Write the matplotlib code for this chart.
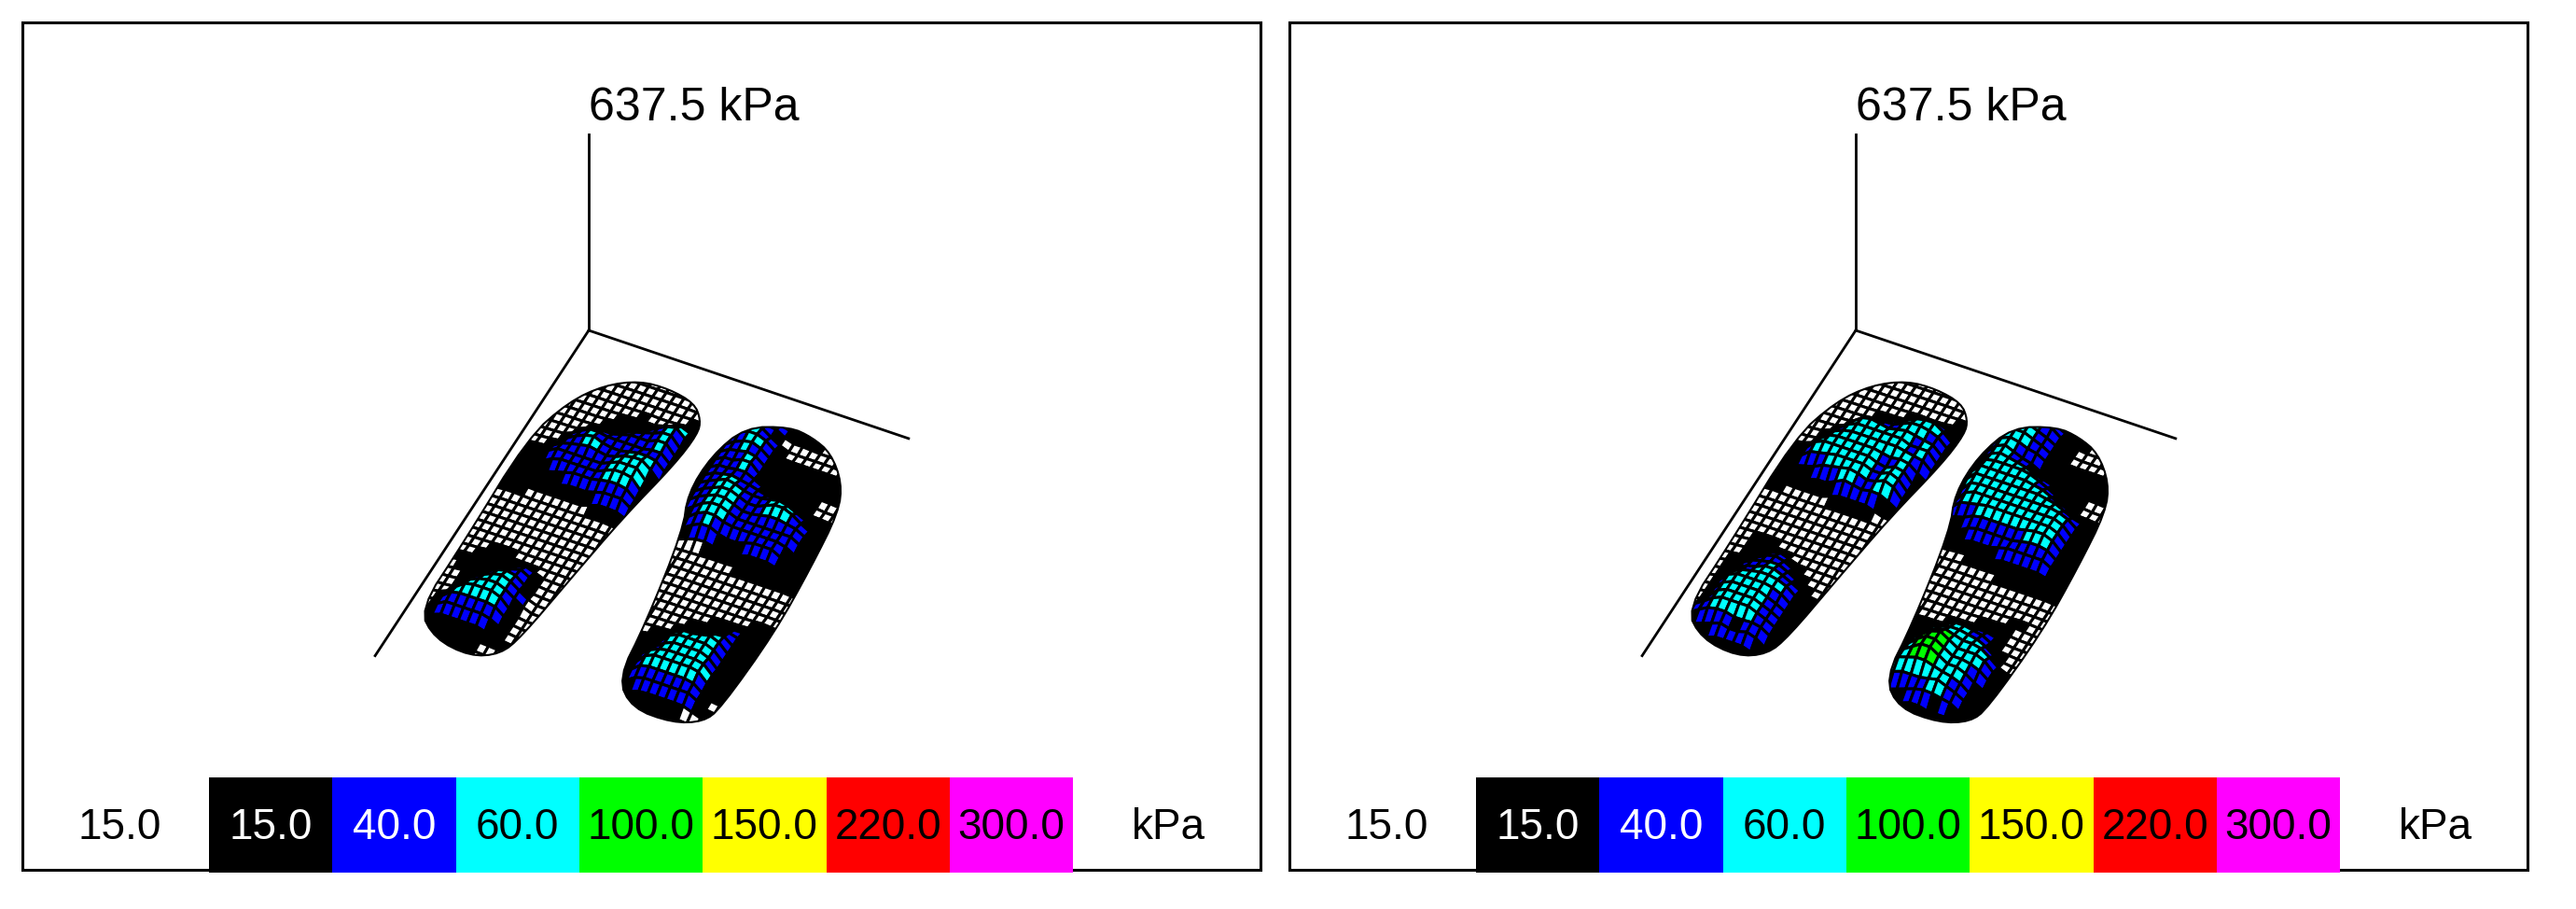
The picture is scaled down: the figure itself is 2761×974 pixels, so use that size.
import matplotlib
matplotlib.use('Agg')
import matplotlib.pyplot as plt
from matplotlib.collections import PolyCollection
from matplotlib.patches import Polygon

plt.rcParams['font.family'] = ['Liberation Sans', 'DejaVu Sans']

peak_label = '637.5 kPa'
scale_labels = ['15.0', '40.0', '60.0', '100.0', '150.0', '220.0', '300.0']
scale_colors = ['#000000', '#0000ff', '#00ffff', '#00ff00', '#ffff00', '#ff0000', '#ff00ff']
scale_text = ['white', 'white', 'black', 'black', 'black', 'black', 'black']

# pressure class of each sensor cell, w <15, k 15-40, b 40-60, c 60-100, g 100-150
level_colors = {'w': '#ffffff', 'k': '#000000', 'b': '#0000ff', 'c': '#00ffff', 'g': '#00ff00'}
level_kpa = {'w': 2, 'k': 8, 'b': 40, 'c': 64, 'g': 100}

left_foot_a = [
    '......wwwwwww..',
    '....wwwwwwwwww.',
    '...wwwwwwwwwwwk',
    '..wwwwwwwkwwwkk',
    '..wwwwwkkkkkbbc',
    '.wwwwwkkkkkbbcb',
    '.wwwwkkkkbbbbcb',
    '.wwwkbbbbbbbbcb',
    '.wwkbbcbbbbbbbb',
    '.wkkbbccbbbcccb',
    'kkkbbbbbbbcccc.',
    'kkkbbbbbbbcccc.',
    'kkkkbbbbbbcccb.',
    'kkkkkkbbbbbbbb.',
    'kkkkkkkkkkbbbb.',
    'kkkwwwwwwwkkk..',
    'wwwwwwwwwwwww..',
    'wwwwwwwwwwwww..',
    'wwwwwwwwwwwww..',
    'wwwwwwwwwwwww..',
    'wwwwwwwwwwwww..',
    'wwwwwwwwwwwww..',
    'wwwkkkwwwwwww..',
    'wwkkkkkkkwww...',
    'kkkkkkkbbkww...',
    'wkkkkbbbbkww...',
    'wwkkbbccbkww...',
    'wwkbbcccbbww...',
    'wwkbccccbkw....',
    'wkbcccccbkw....',
    'wkbbbbbbbkw....',
    'kkbbbbbbkkw....',
    '..kkkkkkkk.....',
    '....kkkkw......',
]

right_foot_a = [
    '....bbkkk.......',
    '..bcbkwwwwww....',
    '.bccbbkwwwwww...',
    '.bbccbkkkkkkkk..',
    'kbbcbbkkkkkkkk..',
    'kbbbcbkkkkkkkkk.',
    'kbbbcbkkkkkkkww.',
    'kbbbbbbkkkkkkww.',
    'kbbccbbbbbbkkkk.',
    'kbbcccbbbcccbkk.',
    '.bbcccbbbcccbbkk',
    '.bbcccbbbbbbbbkk',
    '.kbcccbbbbbbbbkk',
    '.kbbcbbbbbbbbkkk',
    '..kbbbkkkbbbbkkk',
    '...wwkkkkkkkkkkk',
    '...wwwwwwkkkkkkk',
    '...wwwwwwwwwwwww',
    '...wwwwwwwwwwwww',
    '...wwwwwwwwwwwww',
    '...wwwwwwwwwwwww',
    '....wwwwwwwwwwkk',
    '....wwwwwwkkkkkk',
    '....wwwwkkkkkbkk',
    '....wwwkkkkkbbkk',
    '....wkkkbbbccbkk',
    '.....kkbcccccbkk',
    '.....kkbcccccbkk',
    '.....kbbcccccbkk',
    '.....kbccccccckk',
    '.....kbccccccbkk',
    '.....kbbbbbbbbkw',
    '......kbbbbbbbk.',
    '........kkkkkw..',
]

left_foot_b = [
    '......wwwwwww..',
    '....wwwwwwwwww.',
    '...wwwwwwwwwwwk',
    '..wwwwwwwkkwwkk',
    '..wwwwkkkkbbcbk',
    '.wwwwkkkbbccccb',
    '.wwwkbccbbcccbb',
    '.wwkbcccccccbcb',
    '.wkbbcccccccbcb',
    '.wkbcccccccccbb',
    'kkbcccccccbbcb.',
    'kkbcccccccbccb.',
    'kkbbbcccccbccb.',
    'kkkkbbbccbbccb.',
    'kkkkkkkbbbbbkk.',
    'kkwwwwwkkkkkw..',
    'wwwwwwwwwwwww..',
    'wwwwwwwwwwwww..',
    'wwwwwwwwwwwww..',
    'wwwwwwwwwwwww..',
    'wwwwwwwwwwwww..',
    'wwkkkwwwwwwww..',
    'wwkkkkkwwwwww..',
    'wwkkkbbkkwww...',
    'wkkkbbbbkkww...',
    'wkkbbbcbbkkw...',
    'wkkbbcccbbkk...',
    'wkbccccccbkk...',
    'wkbcccccbbk....',
    'wkbcccccbbk....',
    'wkbcccccbbk....',
    'kbbcccccbbk....',
    '..bbbbkbbb.....',
    '....bbbbb......',
]

right_foot_b = [
    '....bcbkk.......',
    '..bccbbkkwww....',
    '.bcccbbkkwwww...',
    '.bcccbbkkkkkkk..',
    'kbccbbbkkkkkkk..',
    'kbccbbkkkkkkkkk.',
    'kbcccccbbkkkkww.',
    'kcccccccbbkkkww.',
    'kcccccccccbbkkk.',
    'kcccccccccccbbk.',
    '.bcccccccccccbkk',
    '.bcccccccccccbkk',
    '.bbbcccccccccbkk',
    '.kkbbbbbbbcccbkk',
    '..kkbbbbbbbbbbkk',
    '...kkkkkbbbbbbkk',
    '...wwkkkkkkkkkkk',
    '...wwwwwwkkkkkkk',
    '...wwwwwwwwwwwww',
    '...wwwwwwwwwwwww',
    '...wwwwwwwwwwwww',
    '....wwwwwwwwwkkw',
    '....wwwwwwkkkkww',
    '....wwwkkkkkkkww',
    '....kkkkbbbbbkww',
    '....kkbbcccbbkkw',
    '.....kbccccccbkw',
    '.....bccggccccbk',
    '.....bcgggccccbk',
    '.....ccgggcccbbk',
    '.....ccgggcccbkk',
    '.....cccccccbbkk',
    '......bbbbccbbk.',
    '........bbbkbk..',
]

left_outline = [(78, 35), (110, 33), (142, 39), (158, 54), (164, 70), (161, 110), (146, 183), (134, 270),
                (124, 345), (115, 371), (88, 384), (45, 378), (13, 353), (13, 268), (9, 134), (25, 82), (48, 52)]
right_outline = [(245, 30), (272, 33), (299, 43), (327, 70), (342, 102), (350, 170), (356, 250), (352, 350),
                 (344, 370), (316, 382), (270, 381), (239, 355), (231, 288), (209, 177), (191, 136), (190, 88), (204, 46)]

W, H = 2761, 974
axis_x, axis_y = 631, 354
pitch = 10.0
kpa_to_px = 0.33
left_u0, right_u0, v0 = 10, 190, 38


def project(u, v, z):
    # mat coordinates to panel pixels, same skew as the drawn axes
    x = axis_x + 0.947 * u - 0.549 * v
    y = axis_y + 0.320 * u + 0.836 * v - z * kpa_to_px
    return x, y


def smooth(points):
    # chaikin corner cutting, twice
    for _ in range(2):
        out = []
        for i, p in enumerate(points):
            q = points[(i + 1) % len(points)]
            out.append((0.75 * p[0] + 0.25 * q[0], 0.75 * p[1] + 0.25 * q[1]))
            out.append((0.25 * p[0] + 0.75 * q[0], 0.25 * p[1] + 0.75 * q[1]))
        points = out
    return points


def draw_foot(ax, rows, u0, outline):
    nr, nc = len(rows), len(rows[0])

    def cell(r, c):
        if r < 0 or r >= nr or c < 0 or c >= nc:
            return '.'
        return rows[r][c]

    def kpa(r, c):
        ch = cell(r, c)
        return 0 if ch == '.' else level_kpa[ch]

    def corner(r, c):
        z = (kpa(r - 1, c - 1) + kpa(r - 1, c) + kpa(r, c - 1) + kpa(r, c)) / 4
        return project(u0 + c * pitch, v0 + r * pitch, z)

    def pad(r, c):
        # cells just outside the map take the nearest colour, the outline cuts them
        for d in (1, 2, 3):
            for rr, cc in ((r, c - d), (r, c + d), (r - d, c), (r + d, c)):
                if cell(rr, cc) != '.':
                    return 'w' if cell(rr, cc) == 'w' else 'k'
        return None

    polys, faces = [], []
    for r in range(-3, nr + 3):
        for c in range(-3, nc + 3):
            ch = cell(r, c)
            if ch == '.':
                ch = pad(r, c)
            if ch is None:
                continue
            polys.append([corner(r, c), corner(r, c + 1), corner(r + 1, c + 1), corner(r + 1, c)])
            faces.append(level_colors[ch])
    edge = Polygon([project(u, v, 0) for u, v in smooth(outline)], closed=True, fc='none', ec='black', lw=1.5, zorder=3)
    ax.add_patch(edge)
    mesh = PolyCollection(polys, facecolors=faces, edgecolors='black', linewidths=2.2, zorder=2)
    ax.add_collection(mesh)
    mesh.set_clip_path(edge)


fig = plt.figure(figsize=(W / 100, H / 100), dpi=100)
panel_lefts = [24, 1382]
feet = [(left_foot_a, right_foot_a), (left_foot_b, right_foot_b)]

for px, (left_foot, right_foot) in zip(panel_lefts, feet):
    ax = fig.add_axes([px / W, 1 - 932 / H, 1327 / W, 908 / H])
    ax.set_xlim(24, 1351)
    ax.set_ylim(932, 24)
    ax.set_xticks([])
    ax.set_yticks([])
    for s in ax.spines.values():
        s.set_linewidth(2.2)

    # axes of the 3d plot
    top = project(0, 0, 637.5)
    ax.plot([axis_x, top[0]], [axis_y, top[1]], color='black', lw=2)
    ax.plot(*zip(project(0, 0, 0), project(362, 0, 0)), color='black', lw=2)
    ax.plot(*zip(project(0, 0, 0), project(0, 417, 0)), color='black', lw=2)
    ax.text(axis_x, 116, peak_label, fontsize=36, ha='left', va='center')

    draw_foot(ax, left_foot, left_u0, left_outline)
    draw_foot(ax, right_foot, right_u0, right_outline)

    # colour scale
    for i, (lab, col, tc) in enumerate(zip(scale_labels, scale_colors, scale_text)):
        ax.bar(224 + 132.3 * i, 102, 132.3, bottom=833, align='edge', color=col, clip_on=False, zorder=3)
        ax.text(224 + 132.3 * (i + 0.5), 887, lab, fontsize=33, color=tc, ha='center', va='center', zorder=4)
    ax.text(128, 887, scale_labels[0], fontsize=33, ha='center', va='center')
    ax.text(1252, 887, 'kPa', fontsize=33, ha='center', va='center')

fig.savefig('out.png', dpi=100)
